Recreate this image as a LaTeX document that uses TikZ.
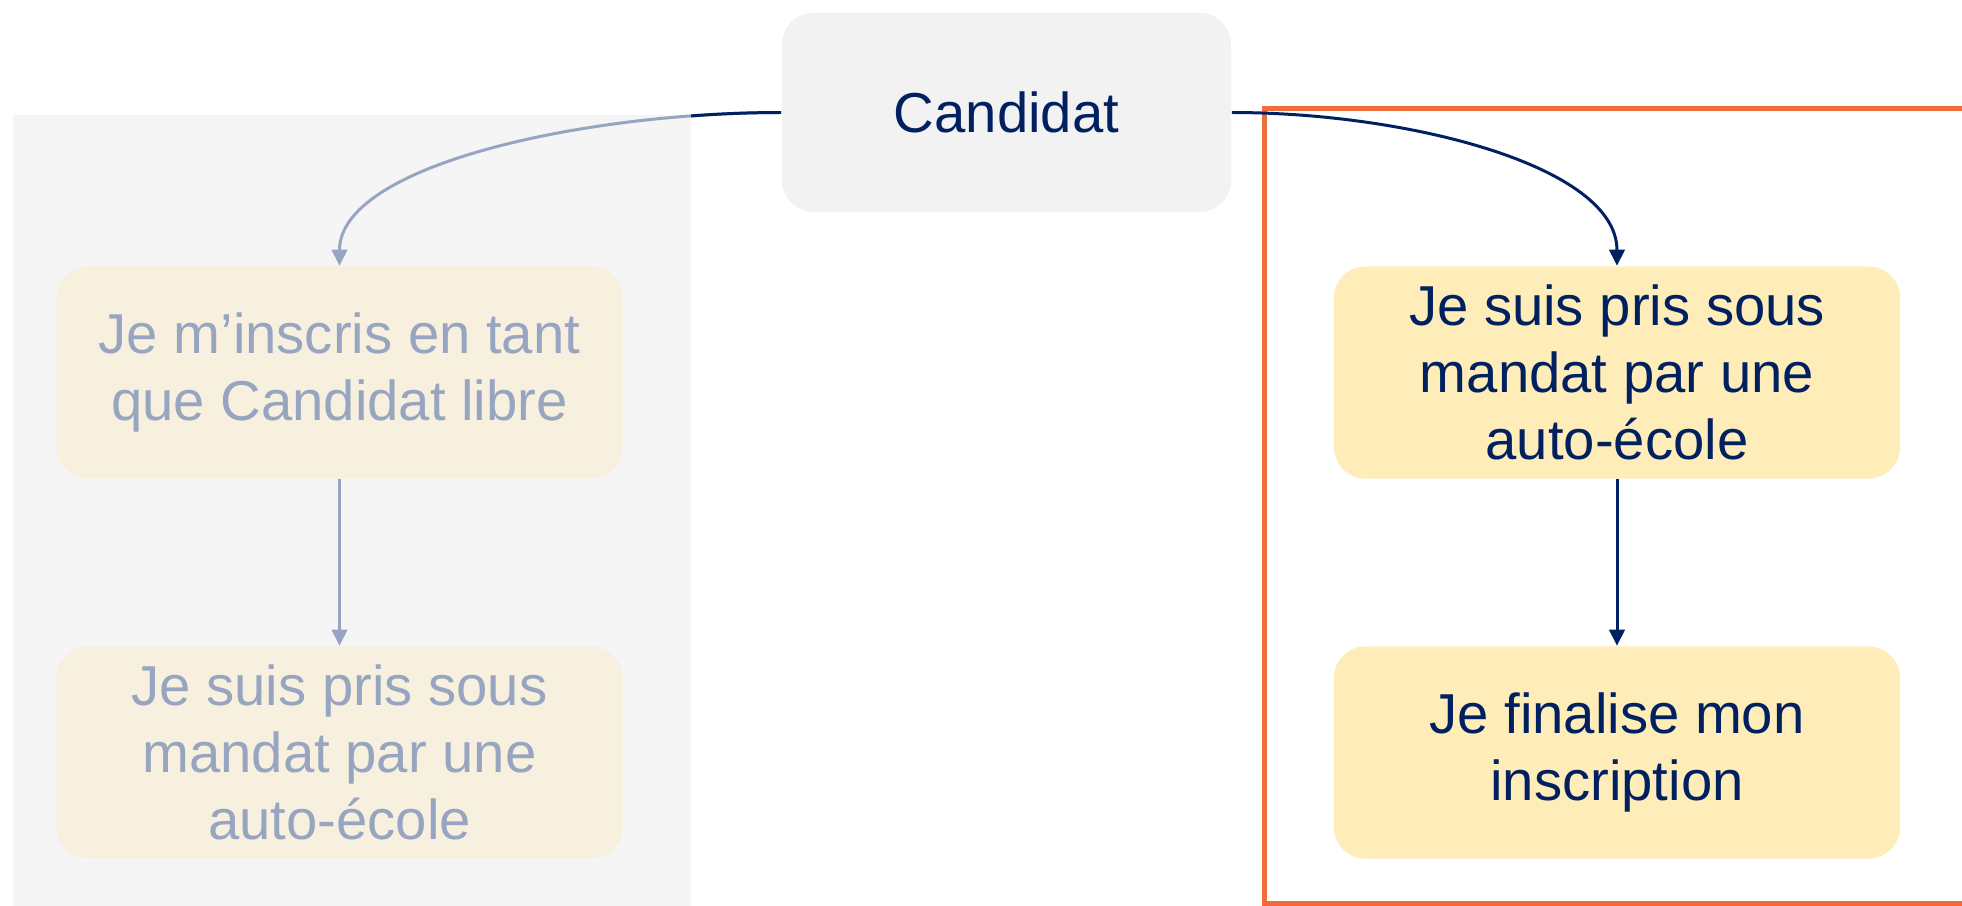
\documentclass[tikz,border=0pt]{standalone}
\usepackage{fontspec}
\setmainfont{Liberation Sans}
\usetikzlibrary{arrows.meta}
\definecolor{navy}{HTML}{002060}
\definecolor{fade}{HTML}{97A5C0}
\definecolor{paleyellow}{HTML}{F7F0DE}
\definecolor{warmyellow}{HTML}{FEEDB9}
\definecolor{rootgray}{HTML}{F2F2F2}
\definecolor{bggray}{HTML}{F5F5F5}
\definecolor{frameorange}{HTML}{EF6C3B}

\begin{document}
\begin{tikzpicture}[x=0.01cm, y=-0.01cm, >={Triangle[length=4.6pt,width=4.4pt]},
	box/.style={rounded corners=9pt, align=center, minimum width=5.66cm, minimum height=2.12cm,
		font=\fontsize{16}{19}\selectfont},
	root/.style={box, fill=rootgray, text=navy, minimum width=4.49cm, minimum height=1.99cm},
	pale/.style={box, fill=paleyellow, text=fade},
	warm/.style={box, fill=warmyellow, text=navy},
	link/.style={->, line width=0.85pt, draw=navy}]
	\useasboundingbox (0,0) rectangle (1962,906);
	\clip (0,0) rectangle (1962,906);
	\fill[bggray] (13,115) rectangle (691,920); 
	\draw[frameorange, line width=1.45pt] (2000,108.5) -- (1264.5,108.5) -- (1264.5,904) -- (2000,904); 
	\node[root] (cand) at (1006.5,112.5) {Candidat}; 
	\node[pale] (libre) at (339.5,372.5) {Je m’inscris en tant\\que Candidat libre}; 
	\node[pale] (mandatL) at (339.5,752.5) {Je suis pris sous\\mandat par une\\auto-école}; 
	\node[warm] (mandatR) at (1617,372.5) {Je suis pris sous\\mandat par une\\auto-école}; 
	\node[warm] (final) at (1617,752.5) {Je finalise mon\\inscription}; 
	\draw[link, draw=fade] (cand.west) .. controls +(-200,0) and +(0,-100) .. (libre.north); 
	\begin{scope}
		\clip (691,0) rectangle (800,300); 
		\draw[line width=0.85pt, navy] (cand.west) .. controls +(-200,0) and +(0,-100) .. (libre.north); 
	\end{scope}
	\draw[link, draw=fade] (libre) -- (mandatL); 
	\draw[link] (cand.east) .. controls +(175,0) and +(0,-100) .. (mandatR.north); 
	\draw[link] (mandatR) -- (final); 
\end{tikzpicture}
\end{document}
